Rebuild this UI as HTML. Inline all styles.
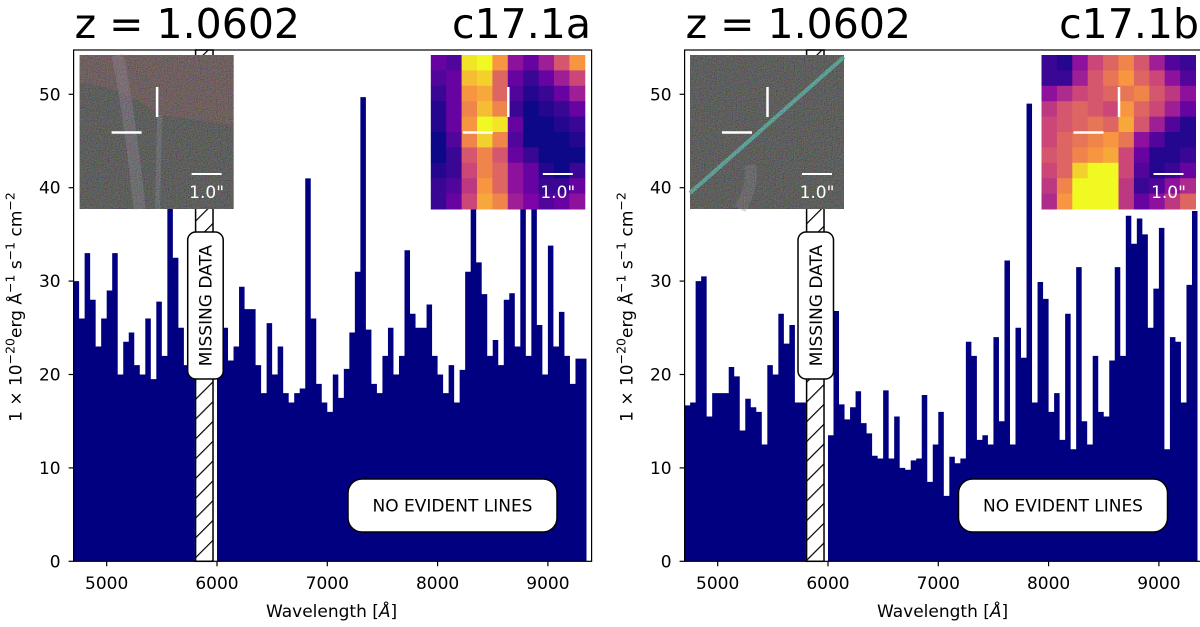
<!DOCTYPE html>
<html><head><meta charset="utf-8"><style>
html,body{margin:0;padding:0;background:#fff;}
svg{display:block;font-family:"DejaVu Sans","Liberation Sans",sans-serif;}
</style></head><body>
<svg id="chart" width="1200" height="627" viewBox="0 0 1200 627" xmlns="http://www.w3.org/2000/svg">
<defs>
<pattern id="hatch" patternUnits="userSpaceOnUse" width="14" height="14" patternTransform="rotate(-45)">
<rect width="14" height="14" fill="#fff"/><line x1="0" y1="0" x2="14" y2="0" stroke="#000" stroke-width="2.4"/>
</pattern>
<filter id="noise" x="0" y="0" width="100%" height="100%">
<feTurbulence type="fractalNoise" baseFrequency="0.9" numOctaves="2" seed="3" result="t"/>
<feColorMatrix in="t" type="matrix" values="1.4 0 0 0 -0.35  0 1.4 0 0 -0.35  0 0 1.4 0 -0.35  0 0 0 0 0.3"/>
</filter>
<clipPath id="clipA"><rect x="73.6" y="50" width="518" height="511.3"/></clipPath>
<clipPath id="clipB"><rect x="684.6" y="50" width="520" height="511.3"/></clipPath>
</defs>
</svg>
<script>
// ---------- data ----------
const binStart = 4700;
const binWidth = 50;
const fluxA = [30,26,33,28,23,26,29,33,20,23.5,24.5,21,20,26,19.5,27.8,22,45,32.5,25,21,21,null,null,null,null,
21,25,21.5,23,29.4,27,27,21,18,25.5,20,23,18,17,18,18.5,41,26,19,17,16,20,17.5,20.6,24.5,31,49.7,24.8,19,18,22,25,20,22,33.3,26.5,25,25,27.5,22,20,18,21,17,20.5,31,40,32,28.6,22,23.7,21,28,28.7,23,40,22,42,25.3,20,33.8,23,26.7,22,19,21.7,21.7];
const fluxB = [16.7,17,30,30.5,15.5,18,18,18,20.8,19.8,14,17.4,16.5,16,12.5,21,20,26.5,23.3,25.3,17,17,null,null,null,null,
13.5,26.8,16.8,15.2,16.5,18.2,14.8,13.7,11.3,11,18.3,11,15.5,10,9.8,10.8,11,17.8,8.5,12.5,16,7,11.2,10.5,11,23.5,22,13,13.5,12.5,24,15,32.2,12.5,25,21.8,49,17,29.9,28.1,16,18,13,26.5,12,31.5,15,12.5,22,16,15.5,21.5,31.5,22,37,34,36.7,35,25,29.2,35.7,12,24,23.5,17,29.6,37.5];
const xTicks = [5000,6000,7000,8000,9000];
const yTicks = [0,10,20,30,40,50];
const missing = [5806,5964];
const heatA = [
[.2,.15,.95,1,.75,.3,.2,.35,.55,.75],
[.15,.2,.85,.9,.6,.2,.1,.2,.35,.5],
[.1,.2,.75,.8,.6,.15,.05,.1,.2,.35],
[.05,.2,.7,.85,.7,.1,0,.05,.1,.2],
[.05,.2,.75,1,.95,.2,0,0,.05,.1],
[0,.15,.7,.9,.7,.15,0,0,0,.05],
[0,.1,.55,.7,.55,.2,.1,0,0,0],
[.05,.1,.5,.7,.6,.3,.2,.05,0,.1],
[.1,.15,.45,.75,.6,.3,.2,.1,.1,.2],
[.1,.2,.5,.8,.7,.35,.25,.15,.2,.3]];
const heatB = [
[.1,.05,.3,.5,.6,.7,.55,.35,.15,.1],
[.1,.1,.35,.55,.65,.75,.6,.5,.3,.15],
[.3,.4,.5,.55,.6,.65,.7,.55,.45,.3],
[.45,.55,.6,.55,.5,.75,.6,.5,.35,.2],
[.5,.55,.6,.65,.6,.8,.55,.35,.15,.05],
[.5,.6,.65,.7,.75,.65,.3,.15,.05,.05],
[.55,.6,.7,.75,.8,.5,.2,.05,.05,.1],
[.5,.6,.9,1,1,.5,.15,.05,.1,.2],
[.45,.7,1,1,1,.45,.1,.15,.3,.4],
[.4,.75,1,1,1,.45,.2,.3,.45,.6]];

// ---------- drawing ----------
const NS = "http://www.w3.org/2000/svg";
const svg = document.getElementById('chart');
function mk(tag, attrs, parent){ const e=document.createElementNS(NS,tag); for(const k in attrs) e.setAttribute(k,attrs[k]); (parent||svg).appendChild(e); return e; }
const plasma=[[13,8,135],[126,3,168],[204,71,120],[248,149,64],[240,249,33]];
function pc(v){ v=Math.max(0,Math.min(1,v))*4; const i=Math.min(3,Math.floor(v)), f=v-i; const a=plasma[i],b=plasma[i+1];
  return `rgb(${a.map((c,k)=>Math.round(c+(b[k]-c)*f)).join(',')})`; }

const Y0=561.3, YS=9.34, TOP=50;
function yS(v){ return Y0 - v*YS; }

function panel(p){
  const xS = w => p.ox + (w-4700)*0.1103;
  const g = mk('g',{});  
  let d='', open=false;
  p.flux.forEach((v,i)=>{
    const x0=xS(binStart+i*binWidth), x1=xS(binStart+(i+1)*binWidth);
    if(v===null){ if(open){ d+=`L${x0},${Y0}Z`; open=false;} return; }
    if(!open){ d+=`M${x0},${Y0}`; open=true; }
    d+=`L${x0},${yS(v)}L${x1},${yS(v)}`;
  });
  if(open) d+=`L${xS(binStart+p.flux.length*binWidth)},${Y0}Z`;
  const sp = mk('path',{d:d,fill:'#000080','clip-path':`url(#${p.clip})`},g);
  
  
  const h = mk('rect',{x:xS(missing[0]),y:TOP,width:xS(missing[1])-xS(missing[0]),height:Y0-TOP,fill:'url(#hatch)',stroke:'#000','stroke-width':1.5},g);
  
  
  const fr = mk('rect',{x:p.ox,y:TOP,width:518,height:Y0-TOP,fill:'none',stroke:'#000','stroke-width':1.2},g);
  
  
  xTicks.forEach(t=>{
    const x=xS(t);
    mk('line',{x1:x,x2:x,y1:Y0,y2:Y0+5,stroke:'#000','stroke-width':1.2},g);
    const tx=mk('text',{x:x,y:589,'font-size':17,'text-anchor':'middle'},g); tx.textContent=t;
    
    
  });
  yTicks.forEach(t=>{
    const y=yS(t);
    mk('line',{x1:p.ox-5,x2:p.ox,y1:y,y2:y,stroke:'#000','stroke-width':1.2},g);
    const tx=mk('text',{x:p.ox-13,y:y+6,'font-size':17,'text-anchor':'end'},g); tx.textContent=t;
    
    
  });
  const xt=mk('text',{x:p.ox+258,y:617,'font-size':17,'text-anchor':'middle'},g);
  xt.innerHTML='Wavelength [<tspan font-style="italic">Å</tspan>]';
  
  
  const yt=mk('text',{x:0,y:0,'font-size':17,'text-anchor':'middle',transform:`translate(${p.ox-52},307) rotate(-90)`},g);
  yt.innerHTML='1 × 10<tspan dy="-7" font-size="12.5">−20</tspan><tspan dy="7">erg Å</tspan><tspan dy="-7" font-size="12.5">−1</tspan><tspan dy="7"> s</tspan><tspan dy="-7" font-size="12.5">−1</tspan><tspan dy="7"> cm</tspan><tspan dy="-7" font-size="12.5">−2</tspan>';
  
  
  const t1=mk('text',{x:p.ox+1,y:38,'font-size':41},g); t1.textContent='z = 1.0602';
  
  
  const t2=mk('text',{x:p.titleRight,y:38,'font-size':41,'text-anchor':'end'},g); t2.textContent=p.id;
  
  
  const ri=mk('g',{transform:`translate(${p.rgbX},55)`},g);
  
  
  mk('rect',{width:154,height:154,fill:'#444543'},ri);
  if(p.id==='c17.1a'){
    mk('path',{d:'M0,28 Q40,30 80,60 L154,70 L154,0 L0,0Z',fill:'#8a4a50',opacity:.35},ri);
    mk('path',{d:'M38,0 Q50,60 60,154',stroke:'#9a8aa8','stroke-width':12,fill:'none',opacity:.3},ri);
    mk('path',{d:'M80,60 L78,154',stroke:'#8890a8','stroke-width':5,fill:'none',opacity:.3},ri);
  } else {
    mk('line',{x1:0,y1:138,x2:154,y2:2,stroke:'#46b0a0','stroke-width':4,opacity:.85},ri);
    mk('path',{d:'M60,110 Q64,130 50,154',stroke:'#8a7a90','stroke-width':12,fill:'none',opacity:.3},ri);
  }
  mk('rect',{width:154,height:154,filter:'url(#noise)'},ri);
  addMarks(ri);
  const hi=mk('g',{transform:`translate(${p.heatX},55)`},g);
  
  
  const cs=154/10;
  p.heat.forEach((row,r)=>row.forEach((v,c)=>{
    const cell=mk('rect',{x:c*cs,y:r*cs,width:cs+0.5,height:cs+0.5,fill:pc(v)},hi);
    
    
  }));
  addMarks(hi);
  const mb=mk('g',{},g);  
  mk('rect',{x:p.mdX,y:232,width:35.5,height:147,rx:8,fill:'#fff',stroke:'#000','stroke-width':1.5},mb);
  const mt=mk('text',{x:0,y:0,'font-size':17,'text-anchor':'middle',transform:`translate(${p.mdX+24},305.5) rotate(-90)`},mb); mt.textContent='MISSING DATA';
  const nb=mk('g',{},g);  
  mk('rect',{x:p.nlX,y:479,width:209,height:53,rx:14,fill:'#fff',stroke:'#000','stroke-width':1.5},nb);
  const nt=mk('text',{x:p.nlX+104.5,y:511.5,'font-size':17,'text-anchor':'middle'},nb); nt.textContent='NO EVIDENT LINES';
}
function addMarks(gr){
  mk('line',{x1:77.5,x2:77.5,y1:32,y2:62,stroke:'#fff','stroke-width':2.5},gr);
  mk('line',{x1:32,x2:62,y1:77.5,y2:77.5,stroke:'#fff','stroke-width':2.5},gr);
  mk('line',{x1:112,x2:142,y1:119,y2:119,stroke:'#fff','stroke-width':2},gr);
  const t=mk('text',{x:127,y:143,'font-size':17,fill:'#fff','text-anchor':'middle'},gr); t.textContent='1.0"';
  
  
}
panel({name:'panel-c17-1a',id:'c17.1a',ox:73.6,flux:fluxA,heat:heatA,clip:'clipA',titleRight:591,rgbX:79.6,heatX:430.8,mdX:187.7,nlX:348});
panel({name:'panel-c17-1b',id:'c17.1b',ox:684.6,flux:fluxB,heat:heatB,clip:'clipB',titleRight:1199,rgbX:690,heatX:1041.5,mdX:798,nlX:958.5});
</script>
</body></html>
